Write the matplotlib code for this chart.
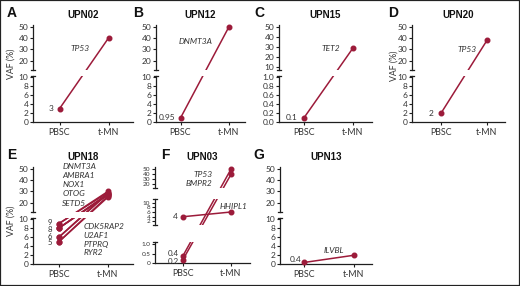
import matplotlib
matplotlib.use("Agg")
import matplotlib.pyplot as plt
from matplotlib.lines import Line2D
from matplotlib.patches import Rectangle

W, H = 520, 286

# ---------------- data ----------------
groups = ["PBSC", "t-MN"]

upn02_genes = ["TP53"]
upn02_pbsc = [3]
upn02_tmn = [40]

upn12_genes = ["DNMT3A"]
upn12_pbsc = [0.95]
upn12_tmn = [50]

upn15_genes = ["TET2"]
upn15_pbsc = [0.1]
upn15_tmn = [29]

upn20_genes = ["TP53"]
upn20_pbsc = [2]
upn20_tmn = [38]

upn18_genes = ["DNMT3A", "AMBRA1", "NOX1", "OTOG", "SETD5",
               "CDK5RAP2", "U2AF1", "PTPRQ", "RYR2"]
upn18_pbsc = [9, 9, 8, 8, 8, 6, 6, 5, 5]
upn18_tmn = [30, 29, 28, 27, 27, 29, 28, 26, 25]
upn18_value_labels = ["9", "8", "6", "5"]
upn18_value_levels = [9, 8, 6, 5]

upn03_genes = ["TP53", "BMPR2", "HHIPL1"]
upn03_pbsc = [0.4, 0.2, 4]
upn03_tmn = [49, 39, 6]

upn13_genes = ["ILVBL"]
upn13_pbsc = [0.4]
upn13_tmn = [2]

# ---------------- style ----------------
RED = "#9c1b3a"
TXT = "#333333"
AXC = "#1e1e1e"
FONT = "Lato"
plt.rcParams["font.family"] = [FONT, "DejaVu Sans"]

fig = plt.figure(figsize=(W / 100, H / 100), dpi=100)


def fx(x):
    return x / W


def fy(y):
    return 1 - y / H


def fbox(x0, x1, ytop, ybot):
    return [x0 / W, 1 - ybot / H, (x1 - x0) / W, (ybot - ytop) / H]


def panel(letter, letter_x, title, genes, pbsc, tmn, geom, segs,
          gene_labels, value_labels, ylabel_y=None, ytick_size=6):
    sx, p0, p1, rx, roff = geom
    sc = p1 - p0
    xlim = ((sx - p0) / sc, (rx - p0) / sc)
    axes = []
    n = len(segs)
    for i, (ylim, ticks, tlabels, ytop, ybot) in enumerate(segs):
        ax = fig.add_axes(fbox(sx, rx, ytop + roff, ybot + roff))
        ax.set_xlim(xlim)
        ax.set_ylim(ylim)
        ax.patch.set_visible(False)
        ax.spines["top"].set_visible(False)
        ax.spines["right"].set_visible(False)
        ax.spines["left"].set_color(AXC)
        ax.spines["left"].set_linewidth(0.9)
        last = (i == n - 1)
        ax.spines["bottom"].set_visible(last)
        ax.spines["bottom"].set_color(AXC)
        ax.spines["bottom"].set_linewidth(0.9)
        ax.set_yticks(ticks)
        ax.set_yticklabels(tlabels)
        if last:
            ax.set_xticks([0, 1])
            ax.set_xticklabels(groups)
        else:
            ax.set_xticks([])
        ax.tick_params(axis="both", colors=AXC, labelcolor=TXT,
                       length=2.2, width=0.8, pad=1.2)
        ax.tick_params(axis="y", labelsize=ytick_size)
        ax.tick_params(axis="x", labelsize=6.4, pad=2)
        axes.append(ax)
        # break caps
        if i > 0:
            fig.add_artist(Line2D([fx(sx - 2.2), fx(sx + 2.2)],
                                  [fy(ytop + roff)] * 2, color=AXC, lw=0.9))
        if not last:
            fig.add_artist(Line2D([fx(sx - 2.2), fx(sx + 2.2)],
                                  [fy(ybot + roff)] * 2, color=AXC, lw=0.9))

    def seg_of(v):
        for ax in axes:
            lo, hi = ax.get_ylim()
            if lo <= v <= hi:
                return ax
        return axes[-1]

    for g, a, b in zip(genes, pbsc, tmn):
        axa, axb = seg_of(a), seg_of(b)
        da = axa.transData.transform((0, a))
        db = axb.transData.transform((1, b))
        for ax in axes:
            inv = ax.transData.inverted()
            pa = inv.transform(da)
            pb = inv.transform(db)
            ax.plot([pa[0], pb[0]], [pa[1], pb[1]], color=RED, lw=1.1,
                    solid_capstyle="butt", zorder=3)
        axa.plot([0], [a], "o", ms=3.3, color=RED, clip_on=False, zorder=5)
        axb.plot([1], [b], "o", ms=3.3, color=RED, clip_on=False, zorder=5)

    for txt, seg, x, y, ha in gene_labels:
        axes[seg].text(x, y, txt, fontsize=6, style="italic", color=TXT,
                       ha=ha, va="center")
    for txt, seg, v, dx, dy, fs in value_labels:
        axes[seg].annotate(txt, xy=(0, v), xytext=(dx, dy),
                           textcoords="offset pixels", fontsize=fs, color=TXT,
                           ha="right", va="center")

    fig.text(fx((sx + rx) / 2), fy(15 + roff), title, ha="center", va="center",
             fontsize=7, fontweight="bold", family="Liberation Sans", color="#111")
    fig.text(fx(letter_x), fy(13 + roff), letter, ha="left", va="center",
             fontsize=10, fontweight="bold", family="Liberation Sans", color="#111")
    if ylabel_y is not None:
        fig.text(fx(11), fy(ylabel_y + roff), "VAF (%)", rotation=90,
                 ha="center", va="center", fontsize=6.3, color=TXT)
    return axes


def std_segs():
    return [((11.8, 51.5), [20, 30, 40, 50], ["20", "30", "40", "50"], 25, 70),
            ((0, 10.15), [0, 2, 4, 6, 8, 10], ["0", "2", "4", "6", "8", "10"], 76.3, 122.3)]


c_segs = [((7.3, 51.7), [10, 20, 30, 40, 50], ["10", "20", "30", "40", "50"], 25, 70),
          ((0, 1.015), [0, 0.2, 0.4, 0.6, 0.8, 1.0],
           ["0.0", "0.2", "0.4", "0.6", "0.8", "1.0"], 76.3, 122.3)]

f_segs = [((13, 53), [20, 30, 40, 50], ["20", "30", "40", "50"], 25, 46),
          ((0.5, 11.5), [2, 4, 6, 8, 10], ["2", "4", "6", "8", "10"], 57, 83),
          ((0, 1.14), [0, 0.5, 1.0], ["0", "0.5", "1.0"], 99.7, 121.3)]

R2 = 142

panel("A", 7, "UPN02", upn02_genes, upn02_pbsc, upn02_tmn,
      (33, 59.5, 108.5, 133, 0), std_segs(),
      [("TP53", 0, 0.62, 31, "right")],
      [("3", 1, upn02_pbsc[0], -6, 0, 6)], ylabel_y=64)

panel("B", 133, "UPN12", upn12_genes, upn12_pbsc, upn12_tmn,
      (156, 180.5, 229, 245, 0), std_segs(),
      [("DNMT3A", 0, 0.65, 37, "right")],
      [("0.95", 1, upn12_pbsc[0], -5, 0, 6)])

panel("C", 254, "UPN15", upn15_genes, upn15_pbsc, upn15_tmn,
      (279, 304, 353, 372, 0), c_segs,
      [("TET2", 0, 0.73, 29, "right")],
      [("0.1", 1, upn15_pbsc[0], -6, 0, 6)])

panel("D", 388, "UPN20", upn20_genes, upn20_pbsc, upn20_tmn,
      (412, 441, 487, 505, 0), std_segs(),
      [("TP53", 0, 0.78, 30, "right")],
      [("2", 1, upn20_pbsc[0], -7, 0, 6)])
fig.text(fx(394), fy(66), "VAF (%)", rotation=90, ha="center", va="center",
         fontsize=6.3, color=TXT)

e_upper_y = [52, 44, 36, 28, 19.5]
e_lower_y = [8.3, 6.3, 4.4, 2.6]
e_dy = [1, -1, 1, -1]
e_labels = [(g, 0, 0.07, y, "left") for g, y in zip(upn18_genes[:5], e_upper_y)]
e_labels += [(g, 1, 0.5, y, "left") for g, y in zip(upn18_genes[5:], e_lower_y)]
panel("E", 7, "UPN18", upn18_genes, upn18_pbsc, upn18_tmn,
      (33, 59, 108, 133, R2), std_segs(), e_labels,
      [(t, 1, v, -7, d, 5.6) for t, v, d in
       zip(upn18_value_labels, upn18_value_levels, e_dy)],
      ylabel_y=79)

panel("F", 161, "UPN03", upn03_genes, upn03_pbsc, upn03_tmn,
      (155, 183, 231, 250, R2), f_segs,
      [("TP53", 0, 0.62, 37.8, "right"), ("BMPR2", 0, 0.62, 22, "right"),
       ("HHIPL1", 1, 0.77, 8.2, "left")],
      [("4", 1, upn03_pbsc[2], -5, 0, 6), ("0.4", 2, upn03_pbsc[0], -4, 2, 5.8),
       ("0.2", 2, upn03_pbsc[1], -4, -2, 5.8)],
      ytick_size=4.6)

panel("G", 253, "UPN13", upn13_genes, upn13_pbsc, upn13_tmn,
      (280, 304, 354, 372, R2), std_segs(),
      [("ILVBL", 1, 0.6, 3.1, "center")],
      [("0.4", 1, upn13_pbsc[0], -3, 3, 6)])

fig.add_artist(Rectangle((0, 0), 1, 1, transform=fig.transFigure, fill=False,
                         ec="#222222", lw=1.6))

fig.savefig("out.png", dpi=100)
